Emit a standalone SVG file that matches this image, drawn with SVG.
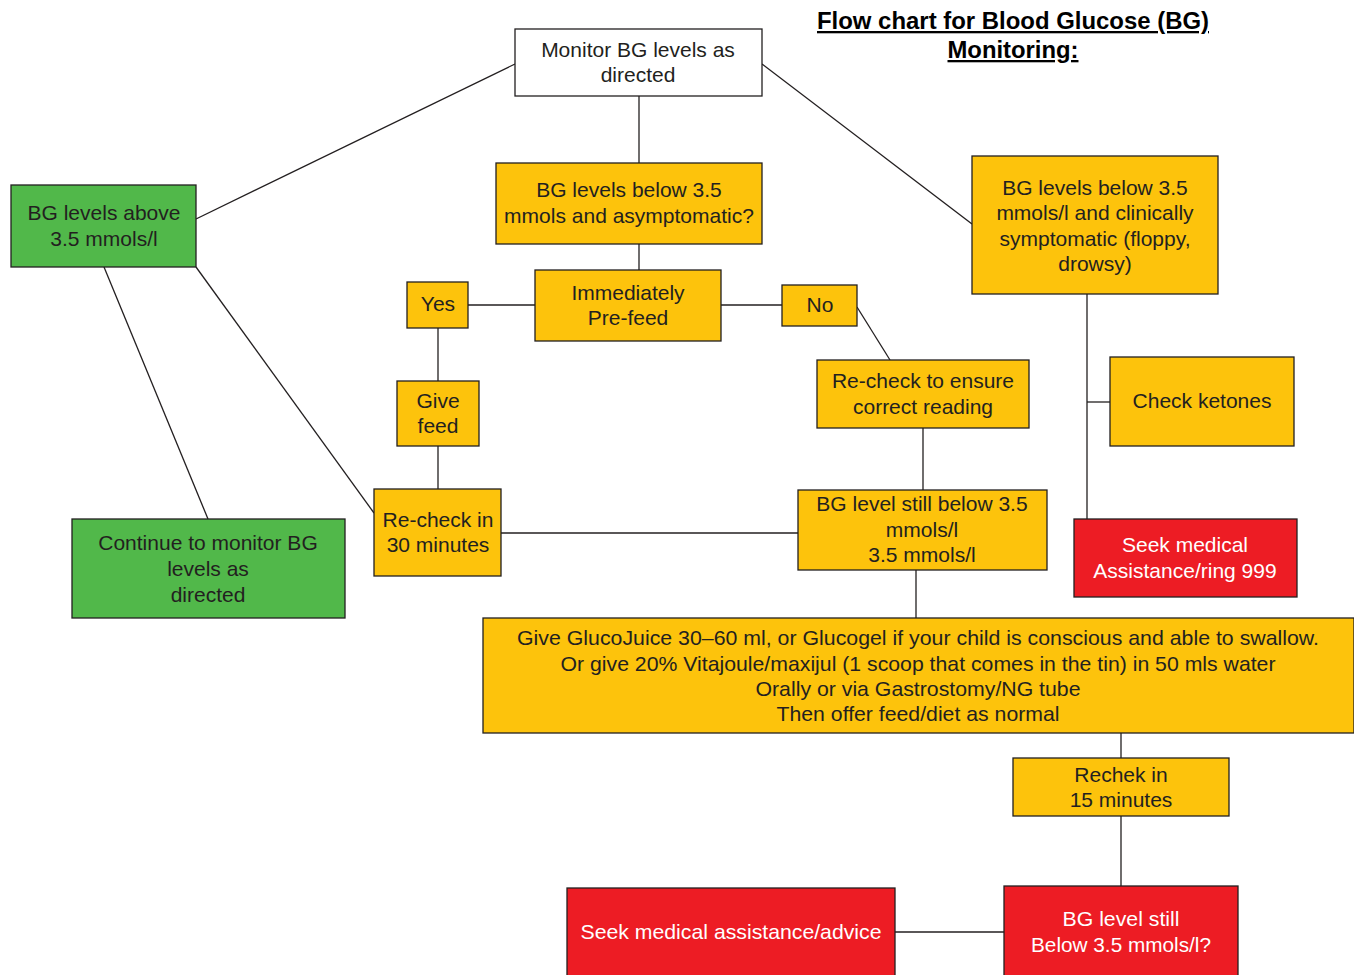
<svg xmlns="http://www.w3.org/2000/svg" width="1354" height="975" viewBox="0 0 1354 975">
  <style>
    .box { stroke: #231f20; stroke-width: 1.3; }
    .white { fill: #ffffff; }
    .yellow { fill: #fdc30c; }
    .green { fill: #51b84a; }
    .red { fill: #ed1c24; }
    text { font-family: "Liberation Sans", Arial, Helvetica, sans-serif; font-size: 21px; text-anchor: middle; fill: #231f20; }
    .light { fill: #ffffff; }
    .title { font-weight: bold; font-size: 23px; text-decoration: underline; fill: #000000; }
    .wire { stroke: #231f20; stroke-width: 1.3; fill: none; }
  </style>

  <rect width="1354" height="975" fill="#ffffff"/>

  <!-- heading -->
  <g id="title">
    <text class="title" x="1013" y="29" textLength="392" lengthAdjust="spacingAndGlyphs">Flow chart for Blood Glucose (BG)</text>
    <text class="title" x="1013" y="58" textLength="131" lengthAdjust="spacingAndGlyphs">Monitoring:</text>
  </g>

  <!-- connectors -->
  <g id="connectors">
    <line class="wire" x1="515" y1="64" x2="196" y2="219"/>
    <line class="wire" x1="762" y1="64" x2="972" y2="224"/>
    <line class="wire" x1="639" y1="96" x2="639" y2="163"/>
    <line class="wire" x1="639" y1="244" x2="639" y2="270"/>
    <line class="wire" x1="468" y1="305" x2="535" y2="305"/>
    <line class="wire" x1="721" y1="305" x2="782" y2="305"/>
    <line class="wire" x1="857" y1="307" x2="890" y2="360"/>
    <line class="wire" x1="438" y1="328" x2="438" y2="381"/>
    <line class="wire" x1="438" y1="446" x2="438" y2="489"/>
    <line class="wire" x1="923" y1="428" x2="923" y2="490"/>
    <line class="wire" x1="501" y1="533" x2="798" y2="533"/>
    <line class="wire" x1="104" y1="267" x2="208" y2="519"/>
    <line class="wire" x1="196" y1="267" x2="374" y2="513"/>
    <line class="wire" x1="1087" y1="294" x2="1087" y2="519"/>
    <line class="wire" x1="1087" y1="402" x2="1110" y2="402"/>
    <line class="wire" x1="916" y1="570" x2="916" y2="618"/>
    <line class="wire" x1="1121" y1="733" x2="1121" y2="758"/>
    <line class="wire" x1="1121" y1="816" x2="1121" y2="886"/>
    <line class="wire" x1="895" y1="932" x2="1004" y2="932"/>
  </g>

  <g id="monitor">
    <rect class="box white" x="515" y="29" width="247" height="67"/>
    <text x="638" y="57">Monitor BG levels as</text>
    <text x="638" y="82">directed</text>
  </g>

  <g id="below-asymptomatic">
    <rect class="box yellow" x="496" y="163" width="266" height="81"/>
    <text x="629" y="197">BG levels below 3.5</text>
    <text x="629" y="223">mmols and asymptomatic?</text>
  </g>

  <g id="below-symptomatic">
    <rect class="box yellow" x="972" y="156" width="246" height="138"/>
    <text x="1095" y="195">BG levels below 3.5</text>
    <text x="1095" y="220">mmols/l and clinically</text>
    <text x="1095" y="246">symptomatic (floppy,</text>
    <text x="1095" y="271">drowsy)</text>
  </g>

  <g id="above">
    <rect class="box green" x="11" y="185" width="185" height="82"/>
    <text x="104" y="220">BG levels above</text>
    <text x="104" y="246">3.5 mmols/l</text>
  </g>

  <g id="yes">
    <rect class="box yellow" x="407" y="282" width="61" height="46"/>
    <text x="438" y="311">Yes</text>
  </g>

  <g id="prefeed">
    <rect class="box yellow" x="535" y="270" width="186" height="71"/>
    <text x="628" y="300">Immediately</text>
    <text x="628" y="325">Pre-feed</text>
  </g>

  <g id="no">
    <rect class="box yellow" x="782" y="285" width="75" height="41"/>
    <text x="820" y="312">No</text>
  </g>

  <g id="recheck-reading">
    <rect class="box yellow" x="817" y="360" width="212" height="68"/>
    <text x="923" y="388">Re-check to ensure</text>
    <text x="923" y="414">correct reading</text>
  </g>

  <g id="give-feed">
    <rect class="box yellow" x="397" y="381" width="82" height="65"/>
    <text x="438" y="408">Give</text>
    <text x="438" y="433">feed</text>
  </g>

  <g id="ketones">
    <rect class="box yellow" x="1110" y="357" width="184" height="89"/>
    <text x="1202" y="408">Check ketones</text>
  </g>

  <g id="recheck-30">
    <rect class="box yellow" x="374" y="489" width="127" height="87"/>
    <text x="438" y="527">Re-check in</text>
    <text x="438" y="552">30 minutes</text>
  </g>

  <g id="still-below">
    <rect class="box yellow" x="798" y="490" width="249" height="80"/>
    <text x="922" y="511">BG level still below 3.5</text>
    <text x="922" y="537">mmols/l</text>
    <text x="922" y="562">3.5 mmols/l</text>
  </g>

  <g id="ring-999">
    <rect class="box red" x="1074" y="519" width="223" height="78"/>
    <text class="light" x="1185" y="552">Seek medical</text>
    <text class="light" x="1185" y="578">Assistance/ring 999</text>
  </g>

  <g id="continue">
    <rect class="box green" x="72" y="519" width="273" height="99"/>
    <text x="208" y="550">Continue to monitor BG</text>
    <text x="208" y="576">levels as</text>
    <text x="208" y="602">directed</text>
  </g>

  <g id="treatment">
    <rect class="box yellow" x="483" y="618" width="871" height="115"/>
    <text x="918" y="645" textLength="802" lengthAdjust="spacingAndGlyphs">Give GlucoJuice 30–60 ml, or Glucogel if your child is conscious and able to swallow.</text>
    <text x="918" y="671" textLength="715" lengthAdjust="spacingAndGlyphs">Or give 20% Vitajoule/maxijul (1 scoop that comes in the tin) in 50 mls water</text>
    <text x="918" y="696" textLength="325" lengthAdjust="spacingAndGlyphs">Orally or via Gastrostomy/NG tube</text>
    <text x="918" y="721" textLength="283" lengthAdjust="spacingAndGlyphs">Then offer feed/diet as normal</text>
  </g>

  <g id="recheck-15">
    <rect class="box yellow" x="1013" y="758" width="216" height="58"/>
    <text x="1121" y="782">Rechek in</text>
    <text x="1121" y="807">15 minutes</text>
  </g>

  <g id="seek-advice">
    <rect class="box red" x="567" y="888" width="328" height="95"/>
    <text class="light" x="731" y="939" textLength="301" lengthAdjust="spacingAndGlyphs">Seek medical assistance/advice</text>
  </g>

  <g id="still-below-final">
    <rect class="box red" x="1004" y="886" width="234" height="97"/>
    <text class="light" x="1121" y="926" textLength="117" lengthAdjust="spacingAndGlyphs">BG level still</text>
    <text class="light" x="1121" y="952" textLength="180" lengthAdjust="spacingAndGlyphs">Below 3.5 mmols/l?</text>
  </g>
</svg>
